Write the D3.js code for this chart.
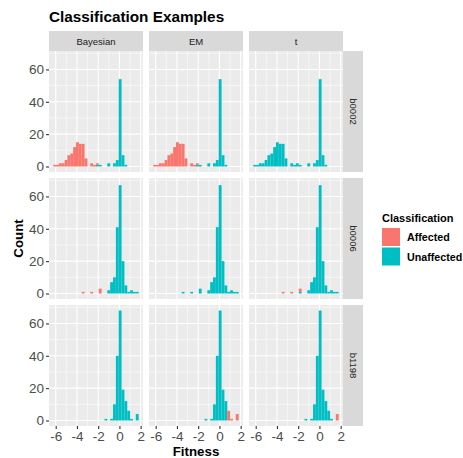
<!DOCTYPE html>
<html><head><meta charset="utf-8">
<script src="https://cdn.jsdelivr.net/npm/d3@7"></script>
<style>body{margin:0;background:#fff}svg{display:block}text{font-family:"Liberation Sans",Arial,sans-serif}</style>
</head><body><svg id="c" width="463" height="458"></svg>
<script>
// ---- data ----
const rowLabels = ["b0002", "b0006", "b1198"];
const colLabels = ["Bayesian", "EM", "t"];
const classes = ["Affected", "Unaffected"];
const binStart = -6.23, binWidth = 0.268, nBins = 30;
const xTicks = [-6, -4, -2, 0, 2];
const yTicks = [0, 20, 40, 60];
// counts per bin (30 bins), Affected / Unaffected, per row (gene) and column (method)
const b0002_Bayesian_aff = [1,1,2,2,4,7,8,12,15,14,14,5,0,2,1,1,0,0,0,0,0,0,0,0,0,0,0,0,0,0];
const b0002_Bayesian_una = [0,0,0,0,0,0,0,0,0,0,0,0,0,0,0,1,1,0,0,2,0,2,4,54,7,1,0,0,0,0];
const b0002_EM_aff       = [1,1,2,2,4,7,8,12,15,14,14,5,0,2,1,1,0,0,0,0,0,0,0,0,0,0,0,0,0,0];
const b0002_EM_una       = [0,0,0,0,0,0,0,0,0,0,0,0,0,0,0,1,1,0,0,2,0,2,4,54,7,1,0,0,0,0];
const b0002_t_aff        = [0,0,0,0,0,0,0,0,0,0,0,0,0,0,0,0,0,0,0,0,0,0,0,0,0,0,0,0,0,0];
const b0002_t_una        = [1,1,2,2,4,7,8,12,15,14,14,5,0,2,1,2,1,0,0,2,0,2,4,54,7,1,0,0,0,0];
const b0006_Bayesian_aff = [0,0,0,0,0,0,0,0,0,0,1,0,0,1,0,0,3,0,0,0,0,0,0,0,0,0,0,0,0,0];
const b0006_Bayesian_una = [0,0,0,0,0,0,0,0,0,0,0,0,0,0,0,0,0,0,0,2,7,10,41,67,20,5,1,2,1,1];
const b0006_EM_aff       = [0,0,0,0,0,0,0,0,0,0,0,0,0,0,0,0,0,0,0,0,0,0,0,0,0,0,0,0,0,0];
const b0006_EM_una       = [0,0,0,0,0,0,0,0,0,0,1,0,0,1,0,0,3,0,0,2,7,10,41,67,20,5,1,2,1,1];
const b0006_t_aff        = [0,0,0,0,0,0,0,0,0,0,1,0,0,1,0,0,2,0,0,0,0,0,0,0,0,0,0,0,0,0];
const b0006_t_una        = [0,0,0,0,0,0,0,0,0,0,0,0,0,0,0,0,1,0,0,2,7,10,41,67,20,5,1,2,1,1];
const b1198_Bayesian_aff = [0,0,0,0,0,0,0,0,0,0,0,0,0,0,0,0,0,0,0,0,0,0,0,0,0,0,0,0,0,0];
const b1198_Bayesian_una = [0,0,0,0,0,0,0,0,0,0,0,0,0,0,0,0,0,0,1,0,1,10,40,68,19,12,6,1,0,4];
const b1198_EM_aff       = [0,0,0,0,0,0,0,0,0,0,0,0,0,0,0,0,0,0,0,0,0,0,0,0,0,0,6,1,0,4];
const b1198_EM_una       = [0,0,0,0,0,0,0,0,0,0,0,0,0,0,0,0,0,0,1,0,1,10,40,68,19,12,0,0,0,0];
const b1198_t_aff        = [0,0,0,0,0,0,0,0,0,0,0,0,0,0,0,0,0,0,0,0,0,0,0,0,0,0,0,0,0,4];
const b1198_t_una        = [0,0,0,0,0,0,0,0,0,0,0,0,0,0,0,0,0,0,1,0,1,10,40,68,19,12,6,1,0,0];

const panelData = {
  b0002: {Bayesian:[b0002_Bayesian_aff,b0002_Bayesian_una], EM:[b0002_EM_aff,b0002_EM_una], t:[b0002_t_aff,b0002_t_una]},
  b0006: {Bayesian:[b0006_Bayesian_aff,b0006_Bayesian_una], EM:[b0006_EM_aff,b0006_EM_una], t:[b0006_t_aff,b0006_t_una]},
  b1198: {Bayesian:[b1198_Bayesian_aff,b1198_Bayesian_una], EM:[b1198_EM_aff,b1198_EM_una], t:[b1198_t_aff,b1198_t_una]}
};

// ---- layout ----
const svg = d3.select("#c");
const P = {left:49, top:51, w:94, h:121, gapX:6, gapY:6};
const colors = d3.scaleOrdinal().domain(classes).range(["#F8766D", "#00BFC4"]);
const x = d3.scaleLinear().domain([-6.63, 2.22]).range([0, P.w]);
const maxCount = 68;
const y = d3.scaleLinear().domain([-0.05*maxCount, maxCount*1.05]).range([P.h, 0]);

// title
svg.append("text").attr("x", 49).attr("y", 21.5).attr("font-size", 15.3).attr("font-weight", "bold")
  .attr("fill", "#000").text("Classification Examples");

// top strips
colLabels.forEach((c, ci) => {
  const gx = P.left + ci*(P.w+P.gapX);
  svg.append("rect").attr("x", gx).attr("y", 31).attr("width", P.w).attr("height", 20).attr("fill", "#D9D9D9");
  svg.append("text").attr("x", gx + P.w/2).attr("y", 41).attr("text-anchor", "middle").attr("dominant-baseline", "central")
    .attr("font-size", 9.5).attr("fill", "#1A1A1A").text(c);
});

rowLabels.forEach((r, ri) => {
  const gy = P.top + ri*(P.h+P.gapY);
  // right strip
  const sx = P.left + 3*P.w + 2*P.gapX;
  svg.append("rect").attr("x", sx).attr("y", gy).attr("width", 20).attr("height", P.h).attr("fill", "#D9D9D9");
  svg.append("text").attr("transform", `translate(${sx+10},${gy+P.h/2}) rotate(90)`)
    .attr("text-anchor", "middle").attr("dominant-baseline", "central")
    .attr("font-size", 9.5).attr("fill", "#1A1A1A").text(r);

  colLabels.forEach((c, ci) => {
    const gx = P.left + ci*(P.w+P.gapX);
    const g = svg.append("g").attr("transform", `translate(${gx},${gy})`);
    g.append("rect").attr("width", P.w).attr("height", P.h).attr("fill", "#EBEBEB");
    // minor grid
    [-5,-3,-1,1].forEach(v => g.append("line").attr("x1", x(v)).attr("x2", x(v)).attr("y1", 0).attr("y2", P.h)
      .attr("stroke", "#fff").attr("stroke-width", 0.55));
    [10,30,50,70].forEach(v => g.append("line").attr("y1", y(v)).attr("y2", y(v)).attr("x1", 0).attr("x2", P.w)
      .attr("stroke", "#fff").attr("stroke-width", 0.55));
    // major grid
    xTicks.forEach(v => g.append("line").attr("x1", x(v)).attr("x2", x(v)).attr("y1", 0).attr("y2", P.h)
      .attr("stroke", "#fff").attr("stroke-width", 1.1));
    yTicks.forEach(v => g.append("line").attr("y1", y(v)).attr("y2", y(v)).attr("x1", 0).attr("x2", P.w)
      .attr("stroke", "#fff").attr("stroke-width", 1.1));
    // stacked histogram bars
    const [aff, una] = panelData[r][c];
    const bins = d3.range(nBins).map(i => ({i, x0: binStart + i*binWidth, x1: binStart + (i+1)*binWidth, Unaffected: una[i], Affected: aff[i]}));
    const stack = d3.stack().keys(["Unaffected", "Affected"])(bins);
    stack.forEach(layer => {
      g.append("g").attr("fill", colors(layer.key)).selectAll("rect")
        .data(layer.filter(d => d[1] > d[0])).join("rect")
        .attr("x", d => x(d.data.x0)).attr("width", d => x(d.data.x1) - x(d.data.x0))
        .attr("y", d => y(d[1])).attr("height", d => y(d[0]) - y(d[1]));
    });
    // y axis on first column
    if (ci === 0) {
      const ay = svg.append("g").attr("transform", `translate(${gx},${gy})`)
        .call(d3.axisLeft(y).tickValues(yTicks).tickSize(3).tickPadding(2));
      ay.select(".domain").remove();
      ay.selectAll("line").attr("stroke", "#333333").attr("stroke-width", 1.1);
      ay.selectAll("text").attr("font-size", 13.5).attr("fill", "#4D4D4D").attr("font-family", "Liberation Sans, Arial, sans-serif");
    }
    // x axis on bottom row
    if (ri === rowLabels.length - 1) {
      const ax = svg.append("g").attr("transform", `translate(${gx},${gy+P.h})`)
        .call(d3.axisBottom(x).tickValues(xTicks).tickSize(3).tickPadding(2).tickFormat(d => d));
      ax.select(".domain").remove();
      ax.selectAll("line").attr("stroke", "#333333").attr("stroke-width", 1.1);
      ax.selectAll("text").attr("font-size", 13.5).attr("fill", "#4D4D4D").attr("font-family", "Liberation Sans, Arial, sans-serif");
    }
  });
});

// axis titles
svg.append("text").attr("x", P.left + (3*P.w + 2*P.gapX)/2).attr("y", 456).attr("text-anchor", "middle")
  .attr("font-size", 13.3).attr("font-weight", "bold").text("Fitness");
svg.append("text").attr("transform", `translate(23,${P.top + (3*P.h+2*P.gapY)/2}) rotate(-90)`).attr("text-anchor", "middle")
  .attr("font-size", 13.3).attr("font-weight", "bold").text("Count");

// legend
const lg = svg.append("g").attr("transform", "translate(382,0)");
lg.append("text").attr("x", 0).attr("y", 221.5).attr("font-size", 11).attr("font-weight", "bold").text("Classification");
classes.forEach((k, i) => {
  lg.append("rect").attr("x", 0).attr("y", 228 + i*19.5).attr("width", 18).attr("height", 18).attr("fill", colors(k));
  lg.append("text").attr("x", 25).attr("y", 237 + i*19.5).attr("dominant-baseline", "central")
    .attr("font-size", 10.7).attr("font-weight", "bold").text(k);
});
</script></body></html>
